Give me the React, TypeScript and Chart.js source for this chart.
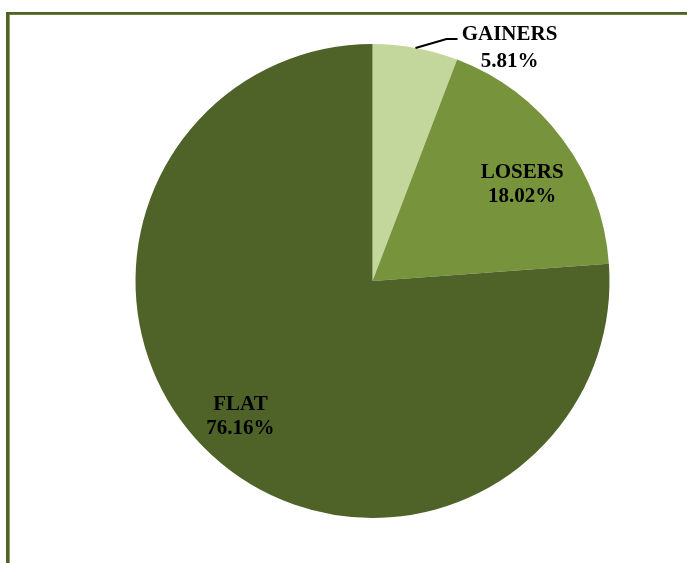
import React, { useEffect, useRef } from "react";
import { Chart, registerables } from "chart.js";

Chart.register(...registerables);

const categories = ["GAINERS", "LOSERS", "FLAT"];
const shares = [5.81, 18.02, 76.16];
const percentLabels = ["5.81%", "18.02%", "76.16%"];
const sliceColors = ["#c3d69b", "#77933c", "#4f6228"];

const W = 687;
const H = 563;

const framePlugin = {
  id: "frame",
  beforeDraw(chart: any) {
    const ctx = chart.ctx;
    ctx.save();
    ctx.fillStyle = "#ffffff";
    ctx.fillRect(0, 0, W, H);
    ctx.fillStyle = "#8ea05f";
    ctx.fillRect(6, 12, W, 3);
    ctx.fillRect(6, 12, 4, H);
    ctx.fillStyle = "#4f6228";
    ctx.fillRect(6, 12, W, 2.5);
    ctx.fillRect(6, 12, 3, H);
    ctx.restore();
  },
};

const labelPlugin = {
  id: "sliceLabels",
  afterDatasetsDraw(chart: any) {
    const ctx = chart.ctx;
    const meta = chart.getDatasetMeta(0);
    ctx.save();
    ctx.font = "bold 21px 'Liberation Serif', 'DejaVu Serif', serif";
    ctx.fillStyle = "#000000";
    ctx.textAlign = "center";
    ctx.textBaseline = "middle";
    meta.data.forEach((arc: any, i: number) => {
      const p = arc.getProps(["x", "y", "startAngle", "endAngle", "outerRadius"], true);
      const mid = (p.startAngle + p.endAngle) / 2;
      const cos = Math.cos(mid);
      const sin = Math.sin(mid);
      if (i === 0) {
        const ex = p.x + p.outerRadius * cos;
        const ey = p.y + p.outerRadius * sin;
        const kx = ex + 31;
        const ky = ey - 9;
        const lx = kx + 11;
        ctx.strokeStyle = "#000000";
        ctx.lineWidth = 2;
        ctx.beginPath();
        ctx.moveTo(ex, ey);
        ctx.lineTo(kx, ky);
        ctx.lineTo(lx, ky);
        ctx.stroke();
        const cx = lx + 52;
        ctx.fillText(categories[i], cx, ky - 4);
        ctx.fillText(percentLabels[i], cx, ky + 23);
      } else {
        const f = i === 1 ? 0.75 : 0.8;
        const nudge = i === 1 ? [7, 10] : [-3, -3];
        const cx = p.x + p.outerRadius * f * cos + nudge[0];
        const cy = p.y + p.outerRadius * f * sin + nudge[1];
        ctx.fillText(categories[i], cx, cy - 12);
        ctx.fillText(percentLabels[i], cx, cy + 12);
      }
    });
    ctx.restore();
  },
};

export default function App() {
  const ref = useRef<HTMLCanvasElement | null>(null);
  useEffect(() => {
    if (!ref.current) return;
    const chart = new Chart(ref.current, {
      type: "pie",
      data: {
        labels: categories,
        datasets: [
          {
            data: shares,
            backgroundColor: sliceColors,
            borderWidth: 0,
          },
        ],
      },
      options: {
        responsive: false,
        animation: false,
        devicePixelRatio: 1,
        layout: { padding: { top: 44, bottom: 45, left: 135.5, right: 77.5 } },
        plugins: {
          legend: { display: false },
          tooltip: { enabled: false },
          title: { display: false },
        },
      },
      plugins: [framePlugin, labelPlugin],
    });
    return () => chart.destroy();
  }, []);
  return (
    <div style={{ position: "fixed", left: 0, top: 0, width: W, height: H, background: "#fff" }}>
      <canvas ref={ref} width={W} height={H} style={{ display: "block", width: W, height: H }} />
    </div>
  );
}
